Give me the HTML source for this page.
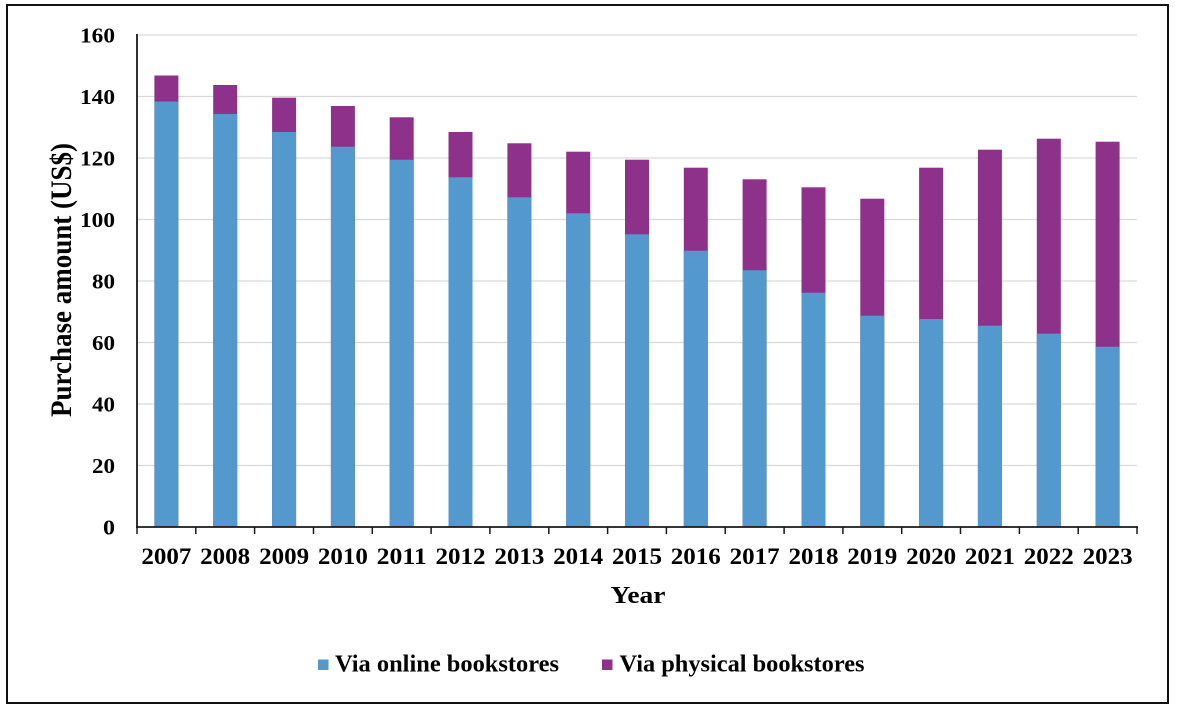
<!DOCTYPE html>
<html>
<head>
<meta charset="utf-8">
<style>
  html, body { margin:0; padding:0; background:#fff; }
  svg { display:block; }
  text { font-family: "Liberation Serif", "DejaVu Serif", serif; font-weight: bold; fill:#000; }
</style>
</head>
<body>
<svg width="1177" height="708" viewBox="0 0 1177 708" xmlns="http://www.w3.org/2000/svg">
  <rect x="0" y="0" width="1177" height="708" fill="#fff"/>
  <!-- outer border -->
  <rect x="7" y="5" width="1161" height="698" fill="none" stroke="#111" stroke-width="2"/>

  <!-- gridlines -->
  <g stroke="#d9d9d9" stroke-width="1.3">
    <line x1="137" y1="35" x2="1137" y2="35"/>
    <line x1="137" y1="96.5" x2="1137" y2="96.5"/>
    <line x1="137" y1="158" x2="1137" y2="158"/>
    <line x1="137" y1="219.5" x2="1137" y2="219.5"/>
    <line x1="137" y1="281" x2="1137" y2="281"/>
    <line x1="137" y1="342.5" x2="1137" y2="342.5"/>
    <line x1="137" y1="404" x2="1137" y2="404"/>
    <line x1="137" y1="465.5" x2="1137" y2="465.5"/>
  </g>

  <!-- bars: physical (purple) full stack, then online (blue) on top -->
  <g fill="#8d318b">
    <rect x="154.4" y="75.5" width="24" height="451.5"/>
    <rect x="213.2" y="85" width="24" height="442"/>
    <rect x="272.1" y="97.7" width="24" height="429.3"/>
    <rect x="330.9" y="106" width="24" height="421"/>
    <rect x="389.7" y="117.3" width="24" height="409.7"/>
    <rect x="448.5" y="132" width="24" height="395"/>
    <rect x="507.4" y="143.3" width="24" height="383.7"/>
    <rect x="566.2" y="151.7" width="24" height="375.3"/>
    <rect x="625.0" y="159.7" width="24" height="367.3"/>
    <rect x="683.8" y="167.7" width="24" height="359.3"/>
    <rect x="742.6" y="179.3" width="24" height="347.7"/>
    <rect x="801.5" y="187.3" width="24" height="339.7"/>
    <rect x="860.3" y="198.7" width="24" height="328.3"/>
    <rect x="919.1" y="167.7" width="24" height="359.3"/>
    <rect x="977.9" y="149.7" width="24" height="377.3"/>
    <rect x="1036.8" y="138.7" width="24" height="388.3"/>
    <rect x="1095.6" y="141.7" width="24" height="385.3"/>
  </g>
  <g fill="#5399ce">
    <rect x="154.4" y="101.5" width="24" height="425.5"/>
    <rect x="213.2" y="114" width="24" height="413"/>
    <rect x="272.1" y="132" width="24" height="395"/>
    <rect x="330.9" y="146.7" width="24" height="380.3"/>
    <rect x="389.7" y="159.7" width="24" height="367.3"/>
    <rect x="448.5" y="177.3" width="24" height="349.7"/>
    <rect x="507.4" y="197.3" width="24" height="329.7"/>
    <rect x="566.2" y="213.3" width="24" height="313.7"/>
    <rect x="625.0" y="234.3" width="24" height="292.7"/>
    <rect x="683.8" y="250.7" width="24" height="276.3"/>
    <rect x="742.6" y="270.3" width="24" height="256.7"/>
    <rect x="801.5" y="292.7" width="24" height="234.3"/>
    <rect x="860.3" y="315.7" width="24" height="211.3"/>
    <rect x="919.1" y="319" width="24" height="208"/>
    <rect x="977.9" y="325.7" width="24" height="201.3"/>
    <rect x="1036.8" y="333.7" width="24" height="193.3"/>
    <rect x="1095.6" y="346.7" width="24" height="180.3"/>
  </g>

  <!-- axes -->
  <g stroke="#1a1a1a" stroke-width="1.8">
    <line x1="137" y1="34" x2="137" y2="528"/>
    <line x1="136" y1="527" x2="1138" y2="527"/>
  </g>
  <g stroke="#1a1a1a" stroke-width="1.5">
    <line x1="137" y1="527" x2="137" y2="534"/>
    <line x1="195.8" y1="527" x2="195.8" y2="534"/>
    <line x1="254.6" y1="527" x2="254.6" y2="534"/>
    <line x1="313.5" y1="527" x2="313.5" y2="534"/>
    <line x1="372.3" y1="527" x2="372.3" y2="534"/>
    <line x1="431.1" y1="527" x2="431.1" y2="534"/>
    <line x1="489.9" y1="527" x2="489.9" y2="534"/>
    <line x1="548.8" y1="527" x2="548.8" y2="534"/>
    <line x1="607.6" y1="527" x2="607.6" y2="534"/>
    <line x1="666.4" y1="527" x2="666.4" y2="534"/>
    <line x1="725.2" y1="527" x2="725.2" y2="534"/>
    <line x1="784.1" y1="527" x2="784.1" y2="534"/>
    <line x1="842.9" y1="527" x2="842.9" y2="534"/>
    <line x1="901.7" y1="527" x2="901.7" y2="534"/>
    <line x1="960.5" y1="527" x2="960.5" y2="534"/>
    <line x1="1019.4" y1="527" x2="1019.4" y2="534"/>
    <line x1="1078.2" y1="527" x2="1078.2" y2="534"/>
    <line x1="1137" y1="527" x2="1137" y2="534"/>
  </g>

  <!-- y tick labels -->
  <g font-size="21" text-anchor="end">
    <text x="115" y="42.5" textLength="35" lengthAdjust="spacingAndGlyphs">160</text>
    <text x="115" y="104" textLength="35" lengthAdjust="spacingAndGlyphs">140</text>
    <text x="115" y="165.5" textLength="35" lengthAdjust="spacingAndGlyphs">120</text>
    <text x="115" y="227" textLength="35" lengthAdjust="spacingAndGlyphs">100</text>
    <text x="115" y="288.5" textLength="23" lengthAdjust="spacingAndGlyphs">80</text>
    <text x="115" y="350" textLength="23" lengthAdjust="spacingAndGlyphs">60</text>
    <text x="115" y="411.5" textLength="23" lengthAdjust="spacingAndGlyphs">40</text>
    <text x="115" y="473" textLength="23" lengthAdjust="spacingAndGlyphs">20</text>
    <text x="115" y="534.5" textLength="12" lengthAdjust="spacingAndGlyphs">0</text>
  </g>

  <!-- x tick labels -->
  <g font-size="23" text-anchor="middle">
    <text x="166.4" y="564" textLength="50" lengthAdjust="spacingAndGlyphs">2007</text>
    <text x="225.2" y="564" textLength="50" lengthAdjust="spacingAndGlyphs">2008</text>
    <text x="284.1" y="564" textLength="50" lengthAdjust="spacingAndGlyphs">2009</text>
    <text x="342.9" y="564" textLength="50" lengthAdjust="spacingAndGlyphs">2010</text>
    <text x="401.7" y="564" textLength="50" lengthAdjust="spacingAndGlyphs">2011</text>
    <text x="460.5" y="564" textLength="50" lengthAdjust="spacingAndGlyphs">2012</text>
    <text x="519.4" y="564" textLength="50" lengthAdjust="spacingAndGlyphs">2013</text>
    <text x="578.2" y="564" textLength="50" lengthAdjust="spacingAndGlyphs">2014</text>
    <text x="637.0" y="564" textLength="50" lengthAdjust="spacingAndGlyphs">2015</text>
    <text x="695.8" y="564" textLength="50" lengthAdjust="spacingAndGlyphs">2016</text>
    <text x="754.6" y="564" textLength="50" lengthAdjust="spacingAndGlyphs">2017</text>
    <text x="813.5" y="564" textLength="50" lengthAdjust="spacingAndGlyphs">2018</text>
    <text x="872.3" y="564" textLength="50" lengthAdjust="spacingAndGlyphs">2019</text>
    <text x="931.1" y="564" textLength="50" lengthAdjust="spacingAndGlyphs">2020</text>
    <text x="989.9" y="564" textLength="50" lengthAdjust="spacingAndGlyphs">2021</text>
    <text x="1048.8" y="564" textLength="50" lengthAdjust="spacingAndGlyphs">2022</text>
    <text x="1107.6" y="564" textLength="50" lengthAdjust="spacingAndGlyphs">2023</text>
  </g>

  <!-- axis titles -->
  <text x="638" y="603" font-size="24" text-anchor="middle" textLength="55" lengthAdjust="spacingAndGlyphs">Year</text>
  <text transform="translate(71,280) scale(1.15,1) rotate(-90)" x="0" y="0" font-size="26" text-anchor="middle" textLength="274" lengthAdjust="spacingAndGlyphs">Purchase amount (US$)</text>

  <!-- legend -->
  <rect x="318" y="659.5" width="10.5" height="10.5" fill="#5399ce"/>
  <text x="335" y="671.5" font-size="24" textLength="224" lengthAdjust="spacingAndGlyphs">Via online bookstores</text>
  <rect x="602" y="659.5" width="10.5" height="10.5" fill="#8d318b"/>
  <text x="619.5" y="671.5" font-size="24" textLength="245" lengthAdjust="spacingAndGlyphs">Via physical bookstores</text>
</svg>
</body>
</html>
